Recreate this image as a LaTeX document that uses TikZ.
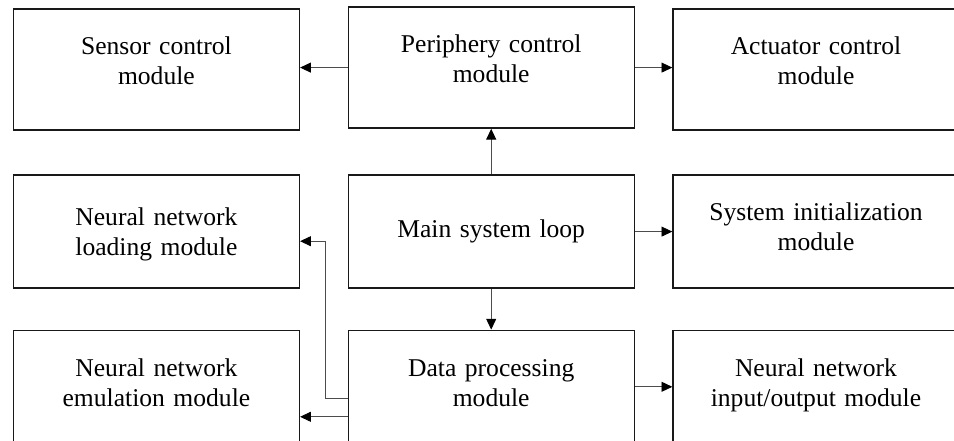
\documentclass[tikz,border=0pt]{standalone}
\usepackage{fontspec}
\setmainfont{Liberation Serif}
\usetikzlibrary{calc, positioning, arrows.meta}

\begin{document}
\begin{tikzpicture}[
  module/.style={draw=black!90, line width=1pt, fill=white,
                 minimum width=7.15cm, text width=6.9cm, align=center,
                 font=\fontsize{18.2}{21.4}\selectfont, inner sep=0pt},
  toprow/.style={module, minimum height=3.025cm, text depth=1.2cm},
  midrow/.style={module, minimum height=2.825cm},
  botrow/.style={module, minimum height=2.825cm, text depth=0.95cm},
  conn/.style={draw=black!70, line width=0.6pt,
               -{Triangle[length=0.27cm, width=0.25cm, color=black]}},
]
\useasboundingbox (0,0) rectangle (23.85,11);
\clip (0,0) rectangle (23.85,11);

% top row
\node[toprow] (sensor) at (3.91,9.26) {Sensor control\\module};
\node[toprow] (periph) at (12.28,9.31) {Periphery control\\module};
\node[toprow] (actuat) at (20.4,9.26) {Actuator control\\module};

% middle row
\node[midrow, text depth=0.74cm] (load) at (3.91,5.21) {Neural network\\loading module};
\node[midrow] (loop) at (12.28,5.21) {Main system loop};
\node[midrow, text depth=1cm] (init) at (20.4,5.21) {System initialization\\module};

% bottom row
\node[botrow] (emul) at (3.91,1.33) {Neural network\\emulation module};
\node[botrow] (data) at (12.28,1.33) {Data processing\\module};
\node[botrow] (nnio) at (20.4,1.33) {Neural network\\input/output module};

\draw[conn] (periph.west) -- (sensor.east |- periph.west);
\draw[conn] (periph.east) -- (actuat.west |- periph.east);
\draw[conn] (loop.north) -- (periph.south);
\draw[conn] (loop.east) -- (init.west);
\draw[conn] (loop.south) -- (data.north);
\draw[conn] (data.east) -- (nnio.west);
\draw[conn] ([yshift=-0.3cm]data.west) -- ++(-0.55,0)
            |- ([yshift=-0.24cm]load.east);
\draw[conn] ([yshift=-0.75cm]data.west) -- ([yshift=-0.75cm]emul.east);
\end{tikzpicture}
\end{document}
